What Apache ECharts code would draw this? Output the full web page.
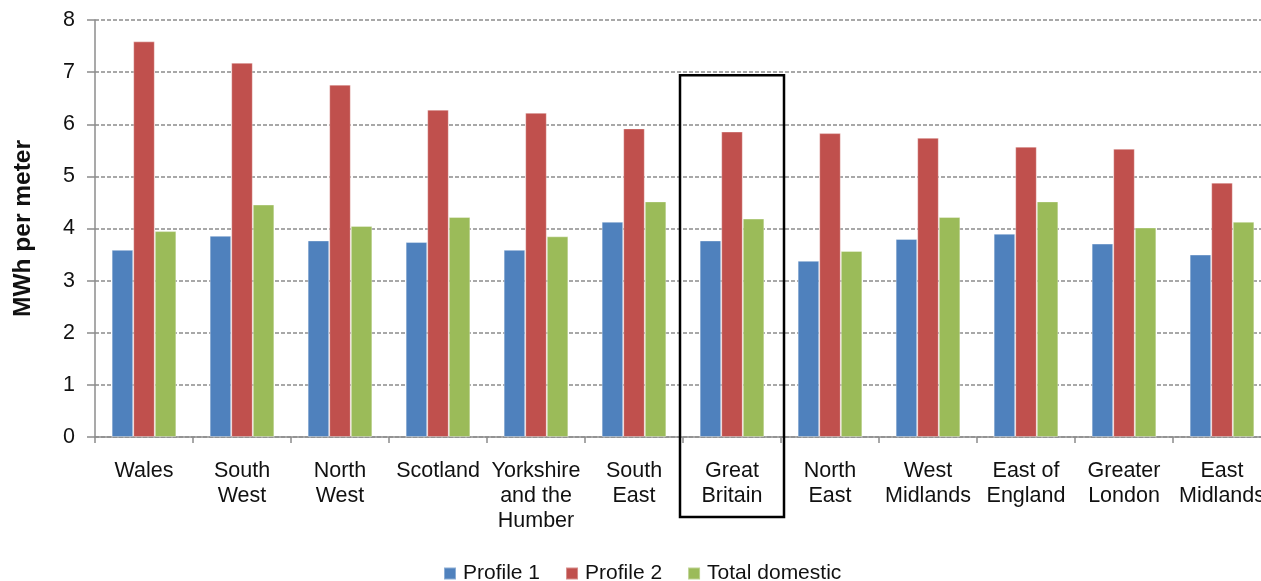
<!DOCTYPE html>
<html>
<head>
<meta charset="utf-8">
<script src="https://cdn.jsdelivr.net/npm/echarts@6/dist/echarts.min.js"></script>
<style>
html,body{margin:0;padding:0;background:#fff;}
#main{width:1261px;height:581px;}
</style>
</head>
<body>
<div id="main"></div>
<script>
const categories = ['Wales', 'South\nWest', 'North\nWest', 'Scotland', 'Yorkshire\nand the\nHumber', 'South\nEast', 'Great\nBritain', 'North\nEast', 'West\nMidlands', 'East of\nEngland', 'Greater\nLondon', 'East\nMidlands'];
const profile1 = [3.59, 3.86, 3.77, 3.74, 3.59, 4.13, 3.77, 3.38, 3.80, 3.90, 3.71, 3.50];
const profile2 = [7.59, 7.18, 6.76, 6.28, 6.22, 5.92, 5.86, 5.83, 5.74, 5.57, 5.53, 4.88];
const totalDomestic = [3.95, 4.46, 4.05, 4.22, 3.85, 4.52, 4.19, 3.57, 4.22, 4.52, 4.02, 4.13];
const highlightIndex = 6;
const boxTopValue = 6.94;

const chart = echarts.init(document.getElementById('main'));
const font = 'Liberation Sans, Arial, sans-serif';
const option = {
  animation: false,
  backgroundColor: '#fff',
  textStyle: {fontFamily: font},
  grid: {left: 95, width: 1176, top: 20, bottom: 144, containLabel: false, outerBoundsMode: 'none'},
  legend: {
    bottom: -8, left: 438,
    itemWidth: 12, itemHeight: 12, itemGap: 25,
    icon: 'rect',
    textStyle: {fontSize: 21, color: '#111', fontFamily: font, padding: [0,0,0,2]},
    data: ['Profile 1', 'Profile 2', 'Total domestic']
  },
  xAxis: {
    type: 'category',
    data: categories,
    axisLine: {lineStyle: {color: '#8c8c8c', width: 1.5}},
    axisTick: {show: true, length: 6, lineStyle: {color: '#8c8c8c', width: 1.5}},
    axisLabel: {fontSize: 21.5, color: '#111', lineHeight: 25, margin: 22, interval: 0, fontFamily: font}
  },
  yAxis: {
    type: 'value', min: 0, max: 8, interval: 1,
    name: 'MWh per meter', nameLocation: 'middle', nameGap: 59, nameRotate: 90,
    nameTextStyle: {fontSize: 24.5, fontWeight: 'bold', color: '#111', fontFamily: font},
    axisLine: {show: true, lineStyle: {color: '#8c8c8c', width: 1.5}},
    axisTick: {show: true, inside: false, length: 8, lineStyle: {color: '#8c8c8c', width: 1.5}},
    axisLabel: {fontSize: 21.5, color: '#111', margin: 20, fontFamily: font},
    splitLine: {show: true, lineStyle: {color: '#8c8c8c', type: [4, 2], width: 1.5}}
  },
  series: [
    {name: 'Profile 1', type: 'bar', data: profile1, barGap: '0%', barCategoryGap: '34%',
     itemStyle: {color: '#4F81BD', borderColor: 'rgba(255,255,255,0.35)', borderWidth: 1}},
    {name: 'Profile 2', type: 'bar', data: profile2,
     itemStyle: {color: '#C0504D', borderColor: 'rgba(255,255,255,0.35)', borderWidth: 1}},
    {name: 'Total domestic', type: 'bar', data: totalDomestic,
     itemStyle: {color: '#9BBB59', borderColor: 'rgba(255,255,255,0.35)', borderWidth: 1}}
  ]
};
chart.setOption(option);

// Highlight box around the Great Britain category, positioned via the axes
const c0 = chart.convertToPixel({xAxisIndex: 0}, 0);
const c1 = chart.convertToPixel({xAxisIndex: 0}, 1);
const band = c1 - c0;
const cx = chart.convertToPixel({xAxisIndex: 0}, highlightIndex);
const yTop = chart.convertToPixel({yAxisIndex: 0}, boxTopValue);
const yZero = chart.convertToPixel({yAxisIndex: 0}, 0);
chart.setOption({
  graphic: [{
    type: 'rect', z: 100,
    shape: {x: cx - band / 2 - 3, y: yTop, width: band + 6, height: (yZero + 80) - yTop},
    style: {fill: 'none', stroke: '#000', lineWidth: 2.5}
  }]
});
</script>
</body>
</html>
